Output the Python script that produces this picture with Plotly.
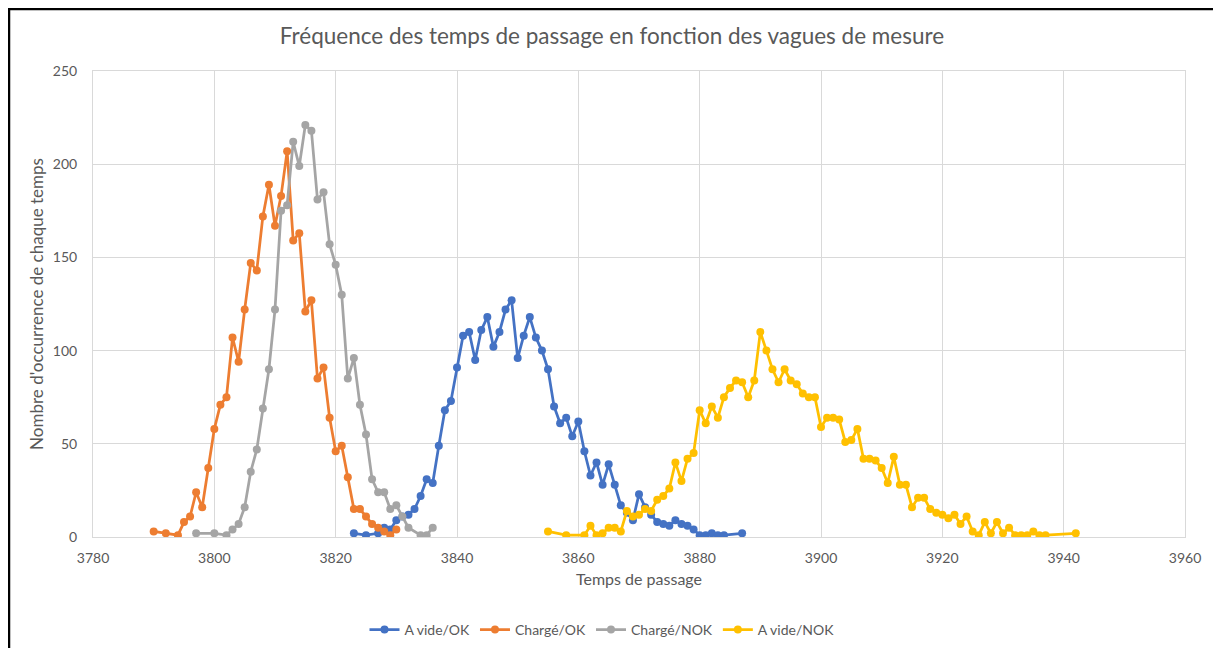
import plotly.graph_objects as go

# ---- data ----
avide_ok_x = [3823, 3825, 3827, 3828, 3829, 3830, 3831, 3832, 3833, 3834, 3835, 3836, 3837, 3838, 3839,
              3840, 3841, 3842, 3843, 3844, 3845, 3846, 3847, 3848, 3849, 3850, 3851, 3852, 3853, 3854,
              3855, 3856, 3857, 3858, 3859, 3860, 3861, 3862, 3863, 3864, 3865, 3866, 3867, 3868, 3869,
              3870, 3871, 3872, 3873, 3874, 3875, 3876, 3877, 3878, 3879, 3880, 3881, 3882, 3883, 3884, 3887]
avide_ok_y = [2, 1, 2, 5, 4, 9, 11, 12, 15, 22, 31, 29, 49, 68, 73,
              91, 108, 110, 95, 111, 118, 102, 110, 122, 127, 96, 108, 118, 107, 100,
              90, 70, 61, 64, 54, 62, 46, 33, 40, 28, 39, 28, 17, 13, 9,
              23, 16, 12, 8, 7, 6, 9, 7, 6, 4, 1, 1, 2, 1, 1, 2]

charge_ok_x = [3790, 3792, 3794, 3795, 3796, 3797, 3798, 3799, 3800, 3801, 3802, 3803, 3804, 3805, 3806,
               3807, 3808, 3809, 3810, 3811, 3812, 3813, 3814, 3815, 3816, 3817, 3818, 3819, 3820, 3821,
               3822, 3823, 3824, 3825, 3826, 3827, 3828, 3829, 3830]
charge_ok_y = [3, 2, 1, 8, 11, 24, 16, 37, 58, 71, 75, 107, 94, 122, 147,
               143, 172, 189, 167, 183, 207, 159, 163, 121, 127, 85, 91, 64, 46, 49,
               32, 15, 15, 11, 7, 5, 3, 1, 4]

charge_nok_x = [3797, 3800, 3802, 3803, 3804, 3805, 3806, 3807, 3808, 3809, 3810, 3811, 3812, 3813, 3814,
                3815, 3816, 3817, 3818, 3819, 3820, 3821, 3822, 3823, 3824, 3825, 3826, 3827, 3828, 3829,
                3830, 3831, 3832, 3834, 3835, 3836]
charge_nok_y = [2, 2, 1, 4, 7, 16, 35, 47, 69, 90, 122, 175, 178, 212, 199,
                221, 218, 181, 185, 157, 146, 130, 85, 96, 71, 55, 31, 24, 24, 15,
                17, 11, 5, 1, 1, 5]

avide_nok_x = [3855, 3858, 3861, 3862, 3863, 3864, 3865, 3866, 3867, 3868, 3869, 3870, 3871, 3872, 3873,
               3874, 3875, 3876, 3877, 3878, 3879, 3880, 3881, 3882, 3883, 3884, 3885, 3886, 3887, 3888,
               3889, 3890, 3891, 3892, 3893, 3894, 3895, 3896, 3897, 3898, 3899, 3900, 3901, 3902, 3903,
               3904, 3905, 3906, 3907, 3908, 3909, 3910, 3911, 3912, 3913, 3914, 3915, 3916, 3917, 3918,
               3919, 3920, 3921, 3922, 3923, 3924, 3925, 3926, 3927, 3928, 3929, 3930, 3931, 3932, 3933,
               3934, 3935, 3936, 3937, 3942]
avide_nok_y = [3, 1, 1, 6, 1, 2, 5, 5, 3, 14, 11, 12, 15, 14, 20,
               22, 26, 40, 30, 42, 45, 68, 61, 70, 64, 75, 80, 84, 83, 75,
               84, 110, 100, 90, 83, 90, 84, 82, 77, 75, 75, 59, 64, 64, 63,
               51, 52, 58, 42, 42, 41, 37, 29, 43, 28, 28, 16, 21, 21, 15,
               13, 12, 10, 12, 7, 11, 3, 1, 8, 2, 8, 2, 5, 1, 1,
               1, 3, 1, 1, 2]

series = [
    ("A vide/OK", avide_ok_x, avide_ok_y, "#4472C4"),
    ("Chargé/OK", charge_ok_x, charge_ok_y, "#ED7D31"),
    ("Chargé/NOK", charge_nok_x, charge_nok_y, "#A5A5A5"),
    ("A vide/NOK", avide_nok_x, avide_nok_y, "#FFC000"),
]

x_ticks = [3780, 3800, 3820, 3840, 3860, 3880, 3900, 3920, 3940, 3960]
y_ticks = [0, 50, 100, 150, 200, 250]

FONT = "Lato, 'Open Sans', sans-serif"
GRAY = "#595959"

# page body has an 8px default margin; figure sized to fill the rest of the window
W, H = 1213, 640
ML, MR, MT, MB = 85, 36, 63, 111
PW, PH = W - ML - MR, H - MT - MB

fig = go.Figure()
for name, xs, ys, col in series:
    fig.add_trace(go.Scatter(
        x=xs, y=ys, name=name, mode="lines+markers",
        line=dict(color=col, width=2.75),
        marker=dict(color=col, size=8),
    ))

fig.update_layout(
    width=W, height=H,
    paper_bgcolor="white", plot_bgcolor="white",
    margin=dict(l=ML, r=MR, t=MT, b=MB, autoexpand=False),
    font=dict(family=FONT, color=GRAY, size=14),
    title=dict(text="Fréquence des temps de passage en fonction des vagues de mesure",
               x=604 / W, xanchor="center", y=1 - 28 / H, yanchor="middle",
               font=dict(size=22.5, color=GRAY, family=FONT)),
    showlegend=True,
    legend=dict(orientation="h", xref="paper", x=(602 - 8 - ML) / PW, xanchor="center",
                yref="container", y=1 - 622 / H, yanchor="middle",
                font=dict(size=14, color=GRAY, family=FONT), itemwidth=30,
                bgcolor="rgba(0,0,0,0)"),
    xaxis=dict(range=[3780, 3960], tickmode="array", tickvals=x_ticks,
               showgrid=True, gridcolor="#D9D9D9", gridwidth=1,
               showline=True, linecolor="#D9D9D9", mirror=True, zeroline=False,
               ticks="", ticklabelstandoff=8, tickfont=dict(size=14, color=GRAY),
               title=dict(text="Temps de passage", font=dict(size=16, color=GRAY), standoff=9)),
    yaxis=dict(range=[0, 250], tickmode="array", tickvals=y_ticks,
               showgrid=True, gridcolor="#D9D9D9", gridwidth=1,
               showline=True, linecolor="#D9D9D9", mirror=True, zeroline=False,
               ticks="", ticklabelstandoff=12, tickfont=dict(size=14, color=GRAY),
               title=dict(text="Nombre d'occurrence de chaque temps", font=dict(size=17, color=GRAY), standoff=4)),
    shapes=[dict(type="rect", xref="paper", yref="paper",
                 x0=(1 - ML) / PW, x1=(1210 - ML) / PW,
                 y0=-0.3, y1=(MT + PH - 1) / PH,
                 line=dict(color="black", width=2.5), fillcolor="rgba(0,0,0,0)", layer="below")],
)

fig.write_html("out.html")
